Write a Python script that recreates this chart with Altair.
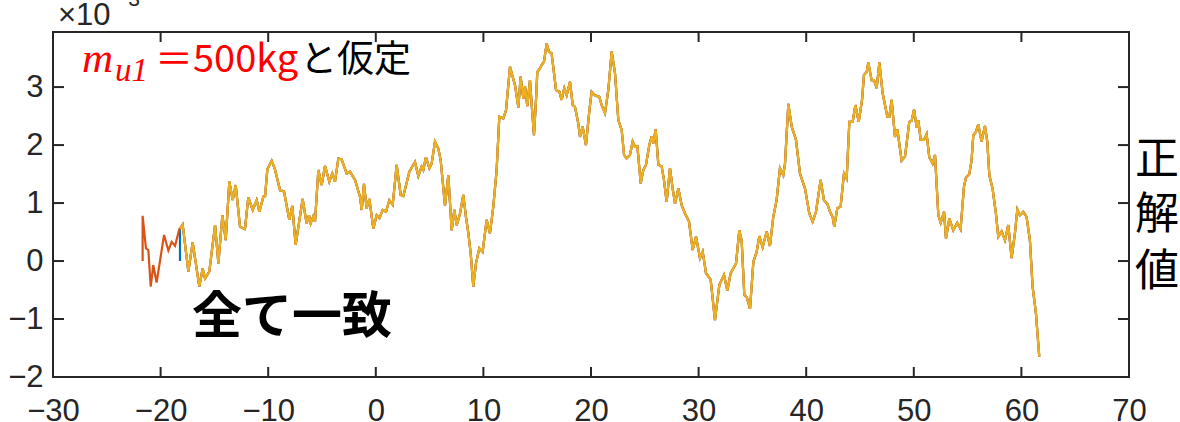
import altair as alt
import pandas as pd

# ---- data ----
# common trajectory (all series coincide)
curve_x = [-21.67, -21.36, -21.14, -20.92, -20.68, -20.37, -19.68, -19.28, -18.97, -18.66, -18.26,
           -18.20, -17.95, -17.42, -17.02, -16.40, -16.09, -15.87, -15.47, -14.94, -14.63, -14.26,
           -13.95, -13.61, -13.30, -13.02, -12.62, -12.16, -11.85, -11.44, -11.07, -10.82, -10.45,
           -10.29, -10.08, -9.68, -9.37, -8.90, -8.53, -8.04, -7.76, -7.45, -6.80, -6.43, -6.21,
           -6.05, -5.81, -5.65, -5.34, -5.03, -4.72, -4.32, -4.04, -3.79, -3.48, -3.17, -2.71,
           -2.40, -1.93, -1.47, -1.31, -1.10, -0.85, -0.60, -0.23, 0.08, 0.33, 0.64, 0.95, 1.26,
           1.57, 1.94, 2.31, 2.56, 3.12, 3.64, 3.95, 4.26, 4.42, 4.66, 4.98, 5.19, 5.50, 5.81,
           6.03, 6.43, 6.74, 7.05, 7.30, 7.52, 7.83, 8.13, 8.38, 8.60, 8.82, 9.06, 9.31, 9.62,
           9.93, 10.30, 10.61, 10.92, 11.23, 11.48, 11.85, 12.10, 12.47, 12.94, 13.25, 13.46,
           13.71, 13.87, 14.08, 14.33, 14.49, 14.70, 14.89, 15.01, 15.26, 15.41, 15.63, 15.88,
           16.10, 16.34, 16.75, 17.06, 17.27, 17.52, 17.74, 18.05, 18.30, 18.51, 18.82, 18.98,
           19.22, 19.53, 19.85, 20.06, 20.37, 20.77, 20.99, 21.30, 21.61, 21.92, 22.23, 22.54,
           22.85, 23.07, 23.31, 23.62, 23.87, 24.09, 24.31, 24.62, 24.86, 25.11, 25.42, 25.64,
           25.79, 26.01, 26.26, 26.57, 26.78, 27.03, 27.34, 27.59, 27.81, 28.12, 28.43, 28.74,
           29.11, 29.45, 29.76, 30.13, 30.38, 30.69, 31.12, 31.52, 31.93, 32.36, 32.67, 32.98,
           33.48, 33.78, 34.00, 34.25, 34.47, 34.78, 35.09, 35.40, 35.64, 35.95, 36.33, 36.63,
           36.94, 37.25, 37.56, 37.87, 38.03, 38.34, 38.65, 39.05, 39.42, 39.89, 40.29, 40.60,
           40.91, 41.34, 41.65, 41.96, 42.21, 42.46, 42.61, 42.89, 43.20, 43.51, 43.76, 44.01,
           44.32, 44.57, 44.88, 45.19, 45.37, 45.62, 45.77, 46.08, 46.30, 46.55, 46.80, 47.11,
           47.54, 47.73, 47.94, 48.25, 48.47, 48.87, 49.18, 49.58, 49.80, 50.02, 50.27, 50.42,
           50.64, 50.95, 51.19, 51.44, 51.75, 51.97, 52.28, 52.50, 52.81, 52.99, 53.30, 53.67,
           54.04, 54.35, 54.66, 54.85, 55.16, 55.37, 55.53, 55.78, 55.99, 56.30, 56.61, 56.83,
           57.02, 57.32, 57.63, 57.85, 58.16, 58.47, 58.78, 59.09, 59.40, 59.62, 59.86, 60.17,
           60.48, 60.79, 61.04, 61.35, 61.66]
curve_y = [0.78, 0.22, 0.19, -0.44, -0.07, -0.37, 0.45, 0.18, 0.33, 0.26, 0.55,
           0.56, 0.63, -0.18, 0.32, -0.44, -0.13, -0.30, -0.18, 0.62, -0.04, 0.79,
           0.36, 1.37, 1.05, 1.31, 0.59, 0.55, 1.10, 0.88, 1.05, 0.85, 1.11,
           1.12, 1.58, 1.73, 1.58, 1.22, 1.20, 0.71, 0.95, 0.28, 1.07, 0.65, 0.79,
           0.65, 0.77, 0.68, 1.57, 1.31, 1.64, 1.37, 1.51, 1.37, 1.77, 1.75, 1.51,
           1.54, 1.40, 1.11, 0.88, 1.33, 0.91, 1.07, 0.56, 0.79, 0.74, 0.88, 0.85, 1.05,
           0.97, 1.66, 1.14, 1.12, 1.54, 1.71, 1.47, 1.63, 1.57, 1.79, 1.60, 1.68, 2.06, 1.94,
           1.74, 0.96, 1.48, 0.53, 0.88, 0.62, 0.82, 1.14, 0.76, 0.48, 0.13, -0.44, -0.04, 0.22,
           0.16, 0.71, 0.48, 0.94, 1.57, 2.49, 2.46, 2.60, 3.35, 3.03, 2.65, 3.18,
           2.80, 3.01, 2.67, 3.12, 2.69, 2.17, 2.78, 3.26, 3.32, 3.38, 3.44, 3.75,
           3.61, 3.58, 2.95, 2.92, 2.78, 2.98, 2.86, 3.09, 2.69, 2.66, 2.37, 2.14,
           2.32, 2.00, 2.60, 2.92, 2.86, 2.83, 2.69, 2.55, 2.95, 3.61, 3.24, 2.43,
           2.26, 1.83, 1.77, 1.83, 2.06, 1.97, 1.98, 1.34, 1.57, 1.66, 2.00, 2.15,
           2.03, 2.27, 1.66, 1.63, 1.40, 1.02, 1.60, 1.25, 0.99, 1.25, 0.96, 0.82,
           0.68, 0.19, 0.42, 0.05, 0.16, -0.21, -0.32, -1.02, -0.41, -0.24, -0.51, -0.21,
           -0.04, 0.53, 0.36, -0.59, -0.62, -0.82, -0.01, 0.16, 0.43, 0.24, 0.51, 0.26,
           0.76, 1.05, 1.60, 1.48, 1.68, 2.71, 2.32, 2.09, 1.51, 1.25, 0.82, 0.68,
           0.85, 1.40, 1.05, 0.99, 0.85, 0.76, 0.59, 0.91, 0.94, 1.51, 1.42, 2.40,
           2.40, 2.69, 2.40, 2.78, 3.21, 3.26, 3.42, 3.12, 3.12, 2.98, 3.42, 2.89,
           2.49, 2.49, 2.78, 2.14, 2.27, 1.73, 1.80, 2.40, 2.42, 2.61, 2.30, 2.43,
           2.09, 2.09, 2.19, 1.79, 1.68, 1.83, 0.79, 0.66, 0.85, 0.39, 0.73, 0.53,
           0.66, 0.55, 1.28, 1.44, 1.50, 1.74, 2.17, 2.23, 2.36, 2.06, 2.33, 2.06,
           1.48, 1.25, 0.82, 0.42, 0.51, 0.36, 0.62, 0.05, 0.48, 0.89, 0.79, 0.85,
           0.76, 0.36, -0.44, -0.90, -1.65]

series_names = ["s1", "s2", "s3"]
series_colors = ["#0072BD", "#D95319", "#EDB120"]
series_start_x = [-18.20, -21.67, -18.20]     # where each series begins
series_start_zero = [True, True, False]      # series that begin from a zero sample

x_ticks = [-30, -20, -10, 0, 10, 20, 30, 40, 50, 60, 70]
y_ticks = [-2, -1, 0, 1, 2, 3]
x_domain = [-30, 70]
y_domain = [-2, 3.95]

# ---- build tables ----
def series_frame(start, zero):
    xs_, ys_ = [], []
    if zero:
        xs_.append(start)
        ys_.append(0.0)
    for x, y in zip(curve_x, curve_y):
        if x >= start - 1e-9:
            xs_.append(x)
            ys_.append(y)
    return pd.DataFrame({"x": xs_, "y": ys_, "i": range(len(xs_))})

W, H = 1076, 345
INK = "#262626"
xs = alt.Scale(domain=x_domain, nice=False, zero=False)
ys = alt.Scale(domain=y_domain, nice=False, zero=False)

xax = alt.Axis(values=x_ticks, title=None, domain=False, ticks=False, tickSize=0, grid=False,
               labelFont="Liberation Sans", labelFontSize=31, labelColor=INK,
               labelBaseline="alphabetic", labelPadding=43, labelFlush=False, labelOverlap=False)
yax = alt.Axis(values=y_ticks, title=None, domain=False, ticks=False, tickSize=0, grid=False,
               labelFont="Liberation Sans", labelFontSize=31, labelColor=INK,
               labelPadding=10, labelFlush=False, labelOverlap=False)

layers = []
for name, col, st, z in zip(series_names, series_colors, series_start_x, series_start_zero):
    df = series_frame(st, z)
    layers.append(
        alt.Chart(df).mark_line(color=col, strokeWidth=2.2).encode(
            x=alt.X("x:Q", scale=xs, axis=xax, title=None),
            y=alt.Y("y:Q", scale=ys, axis=yax, title=None),
            order="i:Q",
        )
    )

xt = pd.DataFrame({"x": x_ticks})
yt = pd.DataFrame({"y": y_ticks})
tick_style = dict(color=INK, strokeWidth=2)
layers += [
    alt.Chart(xt).mark_rule(**tick_style).encode(x=alt.X("x:Q", scale=xs, axis=xax, title=None), y=alt.value(H), y2=alt.value(H - 10)),
    alt.Chart(xt).mark_rule(**tick_style).encode(x=alt.X("x:Q", scale=xs, axis=xax, title=None), y=alt.value(0), y2=alt.value(10)),
    alt.Chart(yt).mark_rule(**tick_style).encode(y=alt.Y("y:Q", scale=ys, axis=yax, title=None), x=alt.value(0), x2=alt.value(11)),
    alt.Chart(yt).mark_rule(**tick_style).encode(y=alt.Y("y:Q", scale=ys, axis=yax, title=None), x=alt.value(W), x2=alt.value(W - 11)),
]

one = pd.DataFrame({"a": [0]})
def label(txt, x, y, **kw):
    return alt.Chart(one).mark_text(**kw).encode(x=alt.value(x), y=alt.value(y), text=alt.value(txt))

layers += [
    label("×10", 5, -7, font="Liberation Sans", fontSize=31, color=INK, align="left", baseline="alphabetic"),
    label("−3", 63, -26, font="Liberation Sans", fontSize=21, color=INK, align="left", baseline="alphabetic"),
    label("m", 29, 40, font="Liberation Serif", fontStyle="italic", fontSize=43, color="#FF0000", align="left", baseline="alphabetic"),
    label("u1", 62, 49, font="Liberation Serif", fontStyle="italic", fontSize=33, color="#FF0000", align="left", baseline="alphabetic"),
    label("＝500kg", 102, 40, font="Noto Sans CJK JP", fontSize=38, color="#FF0000", align="left", baseline="alphabetic"),
    label("と仮定", 247, 40, font="Noto Sans CJK JP", fontSize=37, color="#000000", align="left", baseline="alphabetic"),
    label("全て一致", 239, 286, font="Noto Sans CJK JP", fontSize=50, fontWeight="bold", color="#000000", align="center", baseline="middle"),
    label("正", 1104, 129, font="Noto Sans CJK JP", fontSize=44, color="#000000", align="center", baseline="middle"),
    label("解", 1104, 184, font="Noto Sans CJK JP", fontSize=44, color="#000000", align="center", baseline="middle"),
    label("値", 1104, 241, font="Noto Sans CJK JP", fontSize=44, color="#000000", align="center", baseline="middle"),
]

chart = alt.layer(*layers).properties(
    width=W, height=H,
    autosize=alt.AutoSizeParams(type="none"),
    padding={"left": 53, "top": 32, "right": 51, "bottom": 45},
    background="white",
).configure_view(stroke=INK, strokeWidth=2)

chart.save("out.html", embed_options={"renderer": "svg", "actions": False})
